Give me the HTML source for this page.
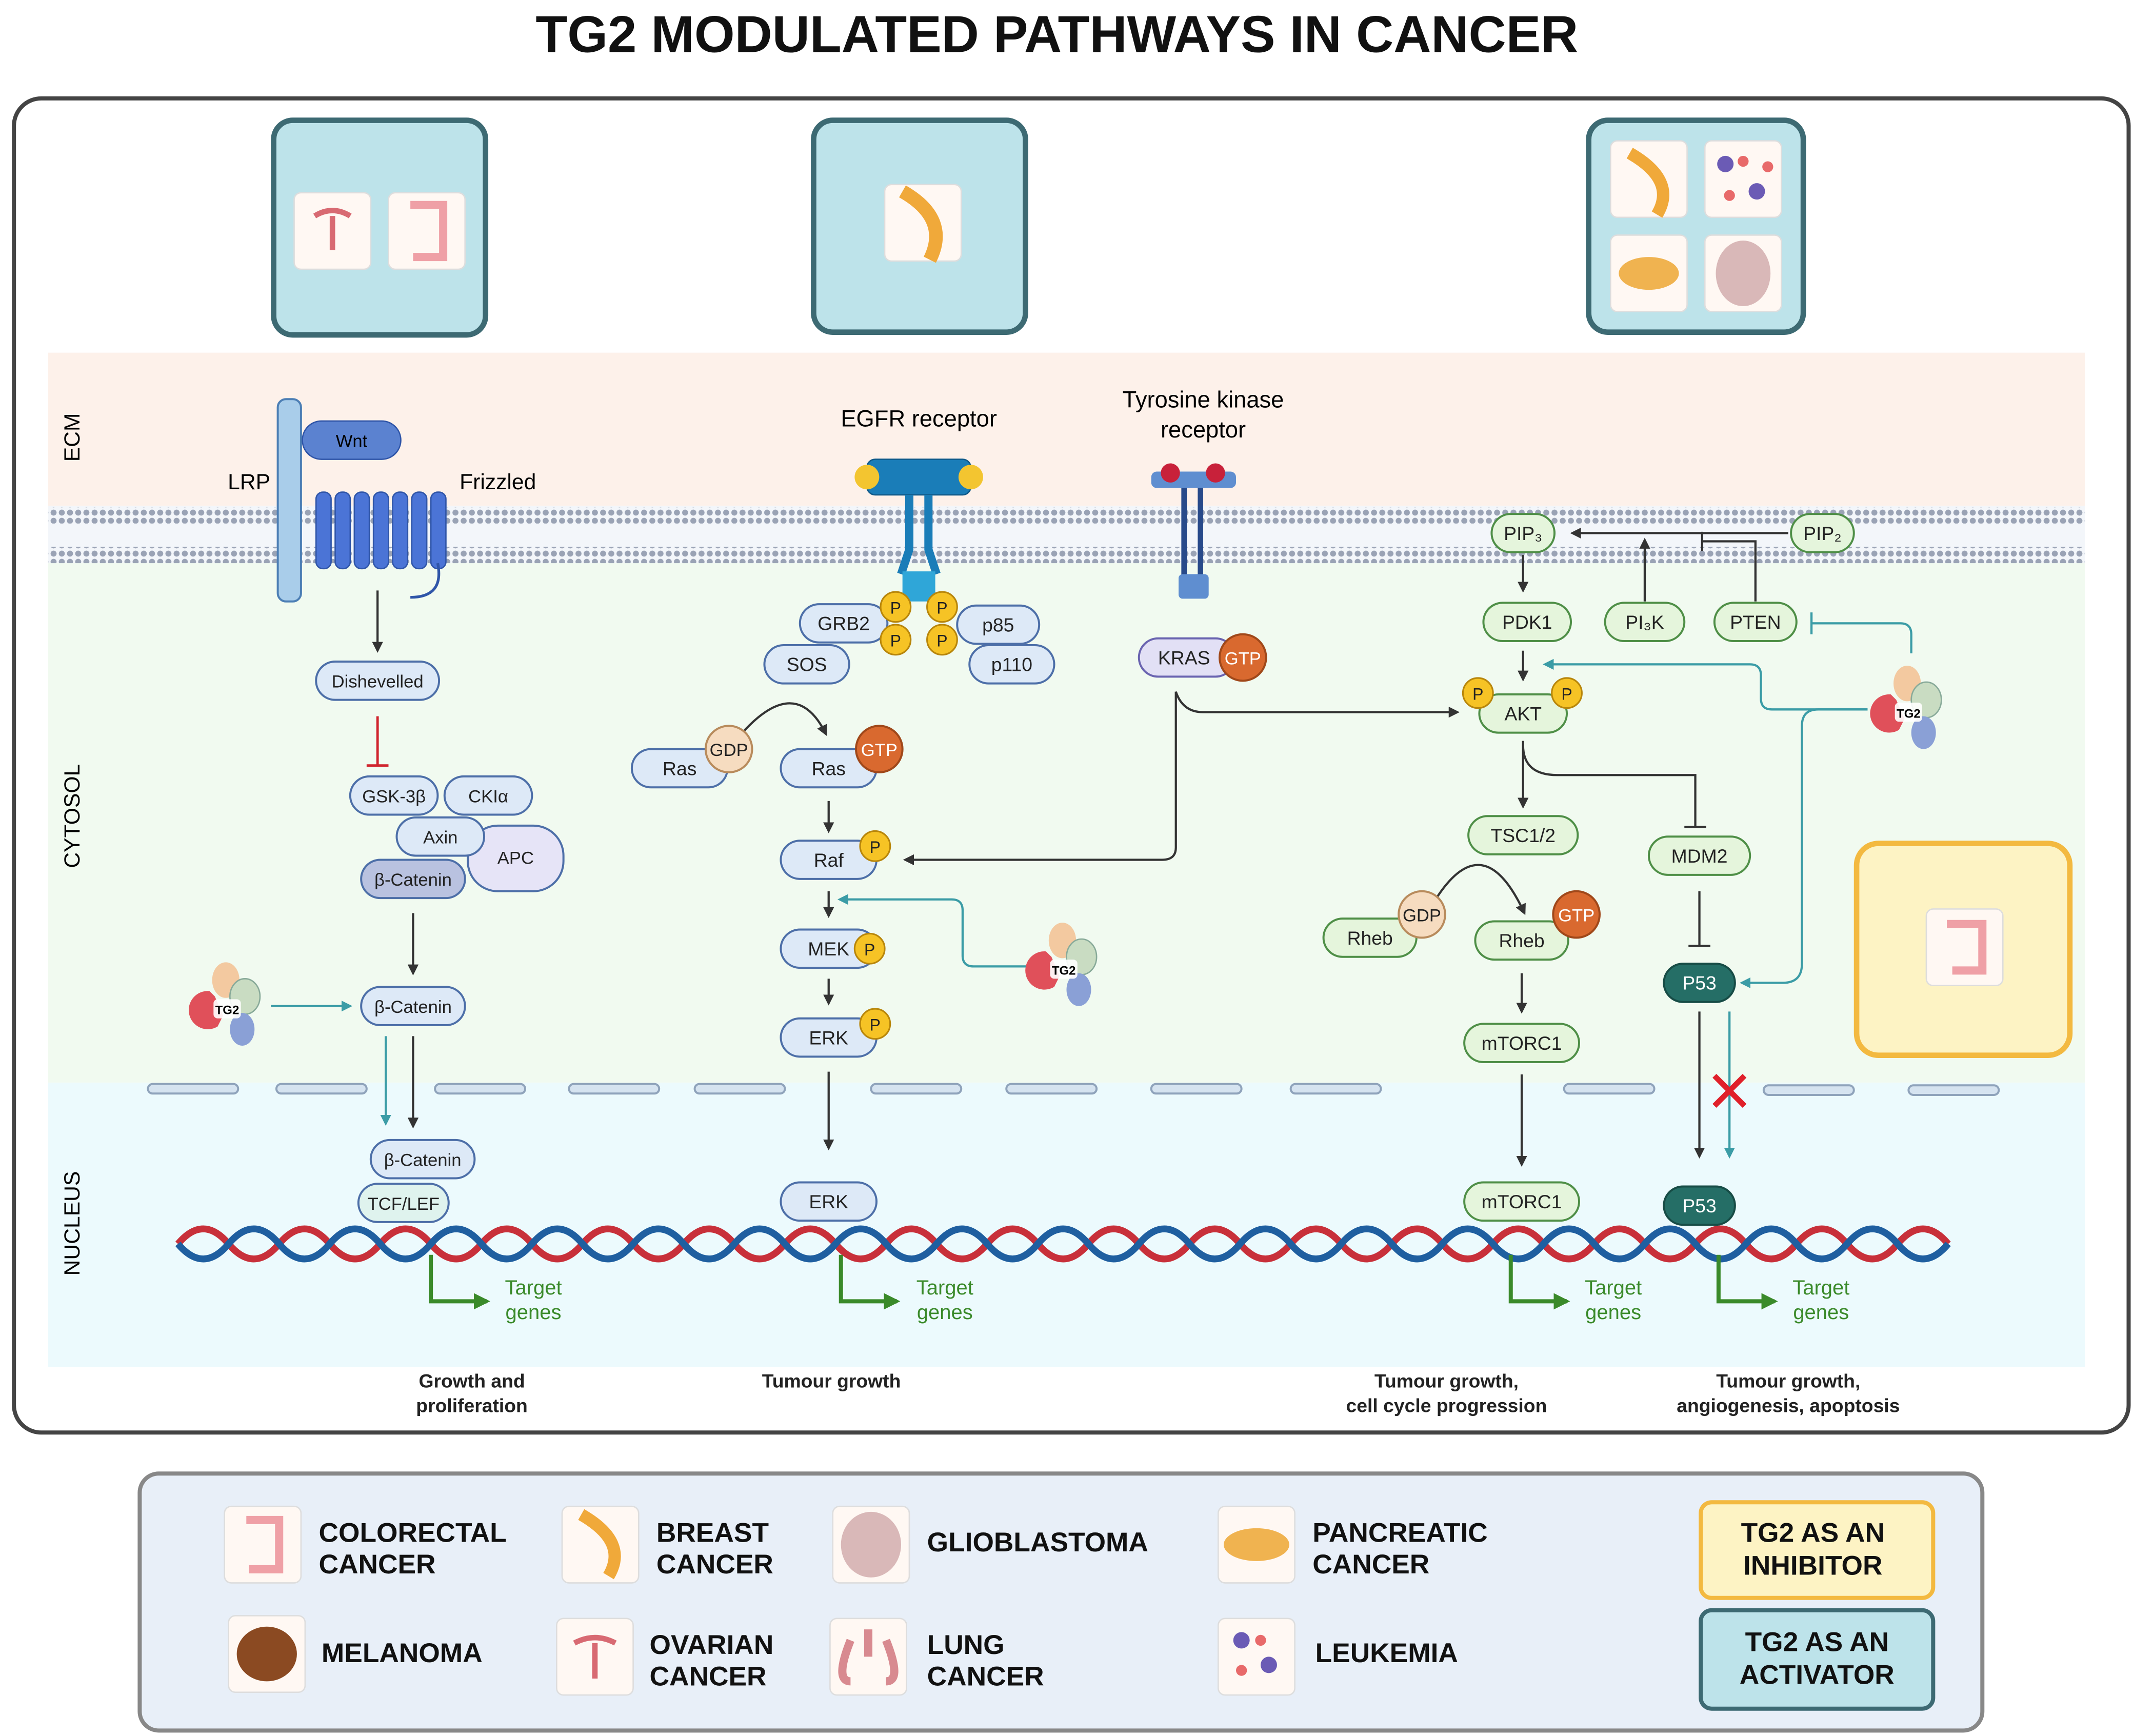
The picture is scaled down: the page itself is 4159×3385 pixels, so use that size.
<!DOCTYPE html>
<html><head><meta charset="utf-8"><style>
html,body{margin:0;padding:0;background:#fff;}
svg{display:block;}
text{font-family:"Liberation Sans",sans-serif;}
</style></head><body>
<svg width="4159" height="3385" viewBox="0 0 1560 1270" xmlns="http://www.w3.org/2000/svg">
<defs>
<marker id="ad" viewBox="0 0 10 10" refX="8" refY="5" markerWidth="5" markerHeight="5" orient="auto"><path d="M0,0L10,5L0,10z" fill="#333"/></marker>
<marker id="at" viewBox="0 0 10 10" refX="8" refY="5" markerWidth="5" markerHeight="5" orient="auto"><path d="M0,0L10,5L0,10z" fill="#3b9ca6"/></marker>
<marker id="ag" viewBox="0 0 10 10" refX="8" refY="5" markerWidth="4" markerHeight="4" orient="auto"><path d="M0,0L10,5L0,10z" fill="#3a8a2a"/></marker>
<pattern id="dots" width="6" height="6" patternUnits="userSpaceOnUse"><circle cx="3" cy="3" r="2.2" fill="#9aa3b5"/></pattern>
<g id="tg2">
<ellipse cx="-2" cy="-20" rx="10" ry="13" fill="#f3c9a0"/>
<ellipse cx="12" cy="-8" rx="11" ry="13" fill="#c9dcc2" stroke="#8a9"/>
<path d="M-14,-12 a14,14 0 1,0 6,26 l4,-8 l-6,-14z" fill="#e0505a"/>
<ellipse cx="10" cy="16" rx="9" ry="12" fill="#8aa0d6"/>
<rect x="-11" y="-6" width="20" height="14" rx="3" fill="#fff" opacity="0.9"/>
<text x="-1" y="5" font-size="9" font-weight="bold" text-anchor="middle">TG2</text>
</g>
<g id="org"><rect x="-28" y="-28" width="56" height="56" rx="5" fill="#fff8f3" stroke="#ddd"/></g>
</defs>

<text x="773" y="38" font-size="38" font-weight="bold" text-anchor="middle" fill="#111">TG2 MODULATED PATHWAYS IN CANCER</text>
<rect x="10" y="72" width="1547" height="976" rx="20" fill="#fff" stroke="#444" stroke-width="3"/>

<!-- bands -->
<rect x="35" y="258" width="1490" height="112" fill="#fdf1ea"/>
<rect x="35" y="370" width="1490" height="42" fill="#f3f6fa"/>
<rect x="35" y="412" width="1490" height="380" fill="#f1faf0"/>
<rect x="35" y="792" width="1490" height="208" fill="#ecfafd"/>
<rect x="35" y="371" width="1490" height="12" fill="url(#dots)"/>
<rect x="35" y="400" width="1490" height="12" fill="url(#dots)"/>
<text transform="translate(58,320) rotate(-90)" font-size="16" text-anchor="middle">ECM</text>
<text transform="translate(58,597) rotate(-90)" font-size="16" text-anchor="middle">CYTOSOL</text>
<text transform="translate(58,895) rotate(-90)" font-size="16" text-anchor="middle">NUCLEUS</text>

<!-- nuclear envelope -->
<g fill="#d5e3f0" stroke="#8fa3bb" stroke-width="1.5">
<rect x="108" y="793" width="66" height="7" rx="3.5"/><rect x="202" y="793" width="66" height="7" rx="3.5"/><rect x="318" y="793" width="66" height="7" rx="3.5"/><rect x="416" y="793" width="66" height="7" rx="3.5"/><rect x="508" y="793" width="66" height="7" rx="3.5"/><rect x="637" y="793" width="66" height="7" rx="3.5"/><rect x="736" y="793" width="66" height="7" rx="3.5"/><rect x="842" y="793" width="66" height="7" rx="3.5"/><rect x="944" y="793" width="66" height="7" rx="3.5"/><rect x="1144" y="793" width="66" height="7" rx="3.5"/><rect x="1290" y="794" width="66" height="7" rx="3.5"/><rect x="1396" y="794" width="66" height="7" rx="3.5"/>
</g>

<!-- top boxes -->
<rect x="200" y="88" width="155" height="157" rx="14" fill="#bde3ea" stroke="#3d6a73" stroke-width="4"/>
<use href="#org" x="243" y="169"/><use href="#org" x="312" y="169"/>
<path d="M230,158 q13,-8 26,0 M243,158 v25" stroke="#d86a72" stroke-width="4" fill="none"/>
<path d="M300,150 h24 v38 h-22" stroke="#efa0a6" stroke-width="6" fill="none"/>
<rect x="595" y="88" width="155" height="155" rx="14" fill="#bde3ea" stroke="#3d6a73" stroke-width="4"/>
<use href="#org" x="675" y="163"/><path d="M660,140 q35,20 20,50" stroke="#f0a93a" stroke-width="10" fill="none"/>
<rect x="1162" y="88" width="157" height="155" rx="14" fill="#bde3ea" stroke="#3d6a73" stroke-width="4"/>
<use href="#org" x="1206" y="131"/><use href="#org" x="1275" y="131"/><use href="#org" x="1206" y="200"/><use href="#org" x="1275" y="200"/>
<path d="M1192,112 q35,20 20,45" stroke="#f0a93a" stroke-width="9" fill="none"/>
<circle cx="1262" cy="120" r="6" fill="#6b5bb5"/><circle cx="1285" cy="140" r="6" fill="#6b5bb5"/><circle cx="1275" cy="118" r="4" fill="#e86a6a"/><circle cx="1293" cy="122" r="4" fill="#e86a6a"/><circle cx="1265" cy="143" r="4" fill="#e86a6a"/>
<ellipse cx="1206" cy="200" rx="22" ry="12" fill="#f0b350"/>
<ellipse cx="1275" cy="200" rx="20" ry="24" fill="#d9b8b8"/>

<!-- yellow box -->
<rect x="1358" y="617" width="156" height="155" rx="16" fill="#fdf3c4" stroke="#f3b940" stroke-width="4"/>
<use href="#org" x="1437" y="693"/><path d="M1424,676 h26 v34 h-22" stroke="#efa0a6" stroke-width="6" fill="none"/>

<!-- receptors -->
<rect x="203" y="292" width="17" height="148" rx="6" fill="#a9cdea" stroke="#4d7fb5" stroke-width="1.5"/>
<text x="182" y="358" font-size="16" text-anchor="middle">LRP</text>
<g fill="#4b74d6" stroke="#2f55a8">
<rect x="231" y="360" width="11" height="56" rx="5"/><rect x="245" y="360" width="11" height="56" rx="5"/><rect x="259" y="360" width="11" height="56" rx="5"/><rect x="273" y="360" width="11" height="56" rx="5"/><rect x="287" y="360" width="11" height="56" rx="5"/><rect x="301" y="360" width="11" height="56" rx="5"/><rect x="315" y="360" width="11" height="56" rx="5"/>
</g>
<path d="M320,412 q5,25 -20,25" stroke="#2f55a8" stroke-width="2" fill="none"/>
<rect x="221" y="308" width="72" height="28" rx="14" fill="#5b82d0" stroke="#2f55a8"/>
<text x="257" y="327" font-size="13" text-anchor="middle">Wnt</text>
<text x="364" y="358" font-size="16" text-anchor="middle">Frizzled</text>

<text x="672" y="312" font-size="17" text-anchor="middle">EGFR receptor</text>
<rect x="634" y="336" width="76" height="26" rx="6" fill="#1a7db8" stroke="#0f5a8a"/>
<circle cx="634" cy="349" r="9" fill="#f3c530"/><circle cx="710" cy="349" r="9" fill="#f3c530"/>
<path d="M665,362 v40 l-6,18 M679,362 v40 l6,18" stroke="#1a7db8" stroke-width="6" fill="none"/>
<rect x="660" y="418" width="24" height="22" fill="#2fa6d8"/>

<text x="880" y="298" font-size="17" text-anchor="middle">Tyrosine kinase</text>
<text x="880" y="320" font-size="17" text-anchor="middle">receptor</text>
<rect x="842" y="345" width="62" height="12" rx="4" fill="#5f8ed0"/>
<circle cx="856" cy="346" r="7" fill="#c8213a"/><circle cx="889" cy="346" r="7" fill="#c8213a"/>
<path d="M866,357 v70 M878,357 v70" stroke="#284a8a" stroke-width="4"/>
<rect x="862" y="420" width="22" height="18" rx="3" fill="#5f8ed0"/>

<!-- connectors dark -->
<g stroke="#333" stroke-width="1.6" fill="none" marker-end="url(#ad)">
<path d="M276,432 v44"/>
<path d="M302,668 v44"/>
<path d="M302,758 v66"/>
<path d="M542,537 q40,-45 62,0"/>
<path d="M606,586 v22"/>
<path d="M606,652 v18"/>
<path d="M606,716 v18"/>
<path d="M606,784 v56"/>
<path d="M860,506 q5,15 20,15 H1066"/>
<path d="M860,506 V620 q0,9 -10,9 H662"/>
<path d="M1308,390 H1150"/>
<path d="M1203,440 V395"/>
<path d="M1114,406 V432"/>
<path d="M1114,476 V497"/>
<path d="M1114,542 V590"/>
<path d="M1050,658 q35,-55 65,10"/>
<path d="M1113,712 V740"/>
<path d="M1113,786 V852"/>
<path d="M1243,740 V846"/>
</g>
<g stroke="#333" stroke-width="1.6" fill="none">
<path d="M1114,545 q0,22 25,22 H1240 V605 M1232,605 h16"/>
<path d="M1243,652 V692 M1235,692 h16"/>
<path d="M1284,440 V396 H1245 M1245,389 v14"/>
</g>
<path d="M276,524 V560 M268,560 h16" stroke="#d0242e" stroke-width="1.8" fill="none"/>
<!-- teal -->
<g stroke="#3b9ca6" stroke-width="1.6" fill="none">
<path d="M198,736 H256" marker-end="url(#at)"/>
<path d="M282,758 v64" marker-end="url(#at)"/>
<path d="M752,707 H712 q-8,0 -8,-8 V666 q0,-8 -8,-8 H614" marker-end="url(#at)"/>
<path d="M1366,519 H1296 q-8,0 -8,-8 V494 q0,-8 -8,-8 H1130" marker-end="url(#at)"/>
<path d="M1366,519 H1330 q-12,0 -12,12 V705 q0,14 -14,14 H1274" marker-end="url(#at)"/>
<path d="M1398,478 V464 q0,-8 -8,-8 H1325 M1325,448 v16"/>
<path d="M1265,740 V846" marker-end="url(#at)"/>
</g>
<path d="M1254,787 l22,22 M1276,787 l-22,22" stroke="#e0202a" stroke-width="4"/>

<!-- DNA -->
<path d="M130,910 q18.5,-22 37,0 t37,0 t37,0 t37,0 t37,0 t37,0 t37,0 t37,0 t37,0 t37,0 t37,0 t37,0 t37,0 t37,0 t37,0 t37,0 t37,0 t37,0 t37,0 t37,0 t37,0 t37,0 t37,0 t37,0 t37,0 t37,0 t37,0 t37,0 t37,0 t37,0 t37,0 t37,0 t37,0 t37,0 t37,0" stroke="#c8303a" stroke-width="5" fill="none"/>
<path d="M130,910 q18.5,22 37,0 t37,0 t37,0 t37,0 t37,0 t37,0 t37,0 t37,0 t37,0 t37,0 t37,0 t37,0 t37,0 t37,0 t37,0 t37,0 t37,0 t37,0 t37,0 t37,0 t37,0 t37,0 t37,0 t37,0 t37,0 t37,0 t37,0 t37,0 t37,0 t37,0 t37,0 t37,0 t37,0 t37,0 t37,0" stroke="#1f5fa0" stroke-width="5" fill="none"/>

<!-- target genes -->
<g stroke="#3a8a2a" stroke-width="3" fill="none" marker-end="url(#ag)">
<path d="M315,918 V952 H356"/><path d="M615,918 V952 H656"/><path d="M1105,918 V952 H1146"/><path d="M1257,918 V952 H1298"/>
</g>
<g font-size="15" fill="#3a8a2a" text-anchor="middle">
<text x="390" y="947">Target</text><text x="390" y="965">genes</text>
<text x="691" y="947">Target</text><text x="691" y="965">genes</text>
<text x="1180" y="947">Target</text><text x="1180" y="965">genes</text>
<text x="1332" y="947">Target</text><text x="1332" y="965">genes</text>
</g>
<g font-size="14" font-weight="bold" text-anchor="middle" fill="#222">
<text x="345" y="1015">Growth and</text><text x="345" y="1033">proliferation</text>
<text x="608" y="1015">Tumour growth</text>
<text x="1058" y="1015">Tumour growth,</text><text x="1058" y="1033">cell cycle progression</text>
<text x="1308" y="1015">Tumour growth,</text><text x="1308" y="1033">angiogenesis, apoptosis</text>
</g>

<!-- nodes -->
<g stroke="#4d6fa8" stroke-width="1.5" fill="#dde9f7">
<rect x="231" y="484" width="90" height="28" rx="14"/>
<rect x="256" y="568" width="64" height="28" rx="14"/>
<rect x="325" y="568" width="64" height="28" rx="14"/>
<rect x="342" y="604" width="70" height="48" rx="22" fill="#e6e4f7"/>
<rect x="290" y="598" width="64" height="28" rx="14"/>
<rect x="264" y="629" width="76" height="28" rx="14" fill="#b9c2e0"/>
<rect x="264" y="722" width="76" height="28" rx="14"/>
<rect x="271" y="834" width="76" height="28" rx="14"/>
<rect x="262" y="866" width="66" height="28" rx="14" fill="#dff3ee"/>
<rect x="585" y="442" width="64" height="28" rx="14"/>
<rect x="559" y="472" width="62" height="28" rx="14"/>
<rect x="700" y="443" width="60" height="28" rx="14"/>
<rect x="709" y="472" width="62" height="28" rx="14"/>
<rect x="462" y="548" width="70" height="28" rx="14"/>
<rect x="571" y="548" width="70" height="28" rx="14"/>
<rect x="571" y="615" width="70" height="28" rx="14"/>
<rect x="571" y="680" width="70" height="28" rx="14"/>
<rect x="571" y="745" width="70" height="28" rx="14"/>
<rect x="571" y="865" width="70" height="28" rx="14"/>
<rect x="833" y="467" width="70" height="28" rx="14" fill="#e2e0f5" stroke="#6a64b0"/>
</g>
<g stroke="#4f8f47" stroke-width="1.5" fill="#e5f5dc">
<rect x="1091" y="376" width="46" height="28" rx="14"/>
<rect x="1310" y="376" width="46" height="28" rx="14"/>
<rect x="1085" y="441" width="64" height="28" rx="14"/>
<rect x="1174" y="441" width="58" height="28" rx="14"/>
<rect x="1254" y="441" width="60" height="28" rx="14"/>
<rect x="1082" y="508" width="64" height="28" rx="14"/>
<rect x="1074" y="597" width="80" height="28" rx="14"/>
<rect x="1206" y="612" width="74" height="28" rx="14"/>
<rect x="968" y="672" width="68" height="28" rx="14"/>
<rect x="1079" y="674" width="68" height="28" rx="14"/>
<rect x="1071" y="749" width="84" height="28" rx="14"/>
<rect x="1071" y="865" width="84" height="28" rx="14"/>
<rect x="1217" y="705" width="52" height="28" rx="14" fill="#256e66" stroke="#174c46"/>
<rect x="1217" y="868" width="52" height="28" rx="14" fill="#256e66" stroke="#174c46"/>
</g>
<!-- phospho & GTP -->
<g stroke="#b8860b" stroke-width="1.2" fill="#f6c325">
<circle cx="655" cy="444" r="11"/><circle cx="655" cy="468" r="11"/><circle cx="689" cy="444" r="11"/><circle cx="689" cy="468" r="11"/>
<circle cx="640" cy="619" r="11"/><circle cx="636" cy="694" r="11"/><circle cx="640" cy="749" r="11"/>
<circle cx="1081" cy="507" r="11"/><circle cx="1146" cy="507" r="11"/>
</g>
<g stroke="#b88b5c" stroke-width="1.5"><circle cx="533" cy="548" r="17" fill="#f6dcc0"/><circle cx="1040" cy="669" r="17" fill="#f6dcc0"/></g>
<g stroke="#a0481a" stroke-width="1.5" fill="#d9692f"><circle cx="643" cy="548" r="17"/><circle cx="909" cy="481" r="17"/><circle cx="1153" cy="669" r="17"/></g>

<g font-size="13" text-anchor="middle" fill="#222">
<text x="276" y="503">Dishevelled</text>
<text x="288" y="587">GSK-3β</text><text x="357" y="587">CKIα</text><text x="322" y="617">Axin</text><text x="377" y="632">APC</text>
<text x="302" y="648">β-Catenin</text><text x="302" y="741">β-Catenin</text><text x="309" y="853">β-Catenin</text><text x="295" y="885">TCF/LEF</text>
<text x="617" y="461" font-size="14">GRB2</text><text x="590" y="491" font-size="14">SOS</text><text x="730" y="462" font-size="14">p85</text><text x="740" y="491" font-size="14">p110</text>
<text x="497" y="567" font-size="14">Ras</text><text x="533" y="553" font-size="13">GDP</text>
<text x="606" y="567" font-size="14">Ras</text><text x="643" y="553" fill="#fff">GTP</text>
<text x="606" y="634" font-size="14">Raf</text><text x="606" y="699" font-size="14">MEK</text><text x="606" y="764" font-size="14">ERK</text><text x="606" y="884" font-size="14">ERK</text>
<text x="866" y="486" font-size="14">KRAS</text><text x="909" y="486" fill="#fff">GTP</text>
<text x="655" y="449" font-size="12">P</text><text x="655" y="473" font-size="12">P</text><text x="689" y="449" font-size="12">P</text><text x="689" y="473" font-size="12">P</text>
<text x="640" y="624" font-size="12">P</text><text x="636" y="699" font-size="12">P</text><text x="640" y="754" font-size="12">P</text>
<text x="1081" y="512" font-size="12">P</text><text x="1146" y="512" font-size="12">P</text>
<text x="1114" y="395" font-size="14">PIP₃</text><text x="1333" y="395" font-size="14">PIP₂</text>
<text x="1117" y="460" font-size="14">PDK1</text><text x="1203" y="460" font-size="14">PI₃K</text><text x="1284" y="460" font-size="14">PTEN</text>
<text x="1114" y="527" font-size="14">AKT</text><text x="1114" y="616" font-size="14">TSC1/2</text><text x="1243" y="631" font-size="14">MDM2</text>
<text x="1002" y="691" font-size="14">Rheb</text><text x="1040" y="674">GDP</text><text x="1113" y="693" font-size="14">Rheb</text><text x="1153" y="674" fill="#fff">GTP</text>
<text x="1113" y="768" font-size="14">mTORC1</text><text x="1113" y="884" font-size="14">mTORC1</text>
<text x="1243" y="724" font-size="14" fill="#fff">P53</text><text x="1243" y="887" font-size="14" fill="#fff">P53</text>
</g>

<use href="#tg2" x="167" y="737"/>
<use href="#tg2" x="779" y="708"/>
<use href="#tg2" x="1397" y="520"/>

<!-- legend -->
<rect x="102" y="1078" width="1348" height="188" rx="14" fill="#e8eff8" stroke="#888" stroke-width="3"/>
<use href="#org" x="192" y="1130"/><path d="M180,1112 h24 v36 h-22" stroke="#efa0a6" stroke-width="6" fill="none"/>
<use href="#org" x="439" y="1130"/><path d="M425,1108 q35,20 20,45" stroke="#f0a93a" stroke-width="9" fill="none"/>
<use href="#org" x="637" y="1130"/><ellipse cx="637" cy="1130" rx="22" ry="24" fill="#d9b8b8"/>
<use href="#org" x="919" y="1130"/><ellipse cx="919" cy="1130" rx="24" ry="12" fill="#f0b350"/>
<use href="#org" x="195" y="1210"/><ellipse cx="195" cy="1210" rx="22" ry="20" fill="#8b4a22"/>
<use href="#org" x="435" y="1212"/><path d="M420,1202 q15,-8 30,0 M435,1202 v26" stroke="#d86a72" stroke-width="4" fill="none"/>
<use href="#org" x="635" y="1212"/><path d="M622,1200 q-12,30 0,30 M648,1200 q12,30 0,30 M635,1192 v20" stroke="#d88a90" stroke-width="6" fill="none"/>
<use href="#org" x="919" y="1212"/><circle cx="908" cy="1200" r="6" fill="#6b5bb5"/><circle cx="928" cy="1218" r="6" fill="#6b5bb5"/><circle cx="922" cy="1200" r="4" fill="#e86a6a"/><circle cx="908" cy="1222" r="4" fill="#e86a6a"/>
<g font-size="20" font-weight="bold" fill="#111">
<text x="233" y="1128">COLORECTAL</text><text x="233" y="1151">CANCER</text>
<text x="480" y="1128">BREAST</text><text x="480" y="1151">CANCER</text>
<text x="678" y="1135">GLIOBLASTOMA</text>
<text x="960" y="1128">PANCREATIC</text><text x="960" y="1151">CANCER</text>
<text x="235" y="1216">MELANOMA</text>
<text x="475" y="1210">OVARIAN</text><text x="475" y="1233">CANCER</text>
<text x="678" y="1210">LUNG</text><text x="678" y="1233">CANCER</text>
<text x="962" y="1216">LEUKEMIA</text>
</g>
<rect x="1244" y="1099" width="170" height="70" rx="8" fill="#fdf3c4" stroke="#f3b940" stroke-width="3"/>
<rect x="1244" y="1178" width="170" height="72" rx="8" fill="#bde3ea" stroke="#3d6a73" stroke-width="3"/>
<g font-size="20" font-weight="bold" text-anchor="middle" fill="#111">
<text x="1326" y="1128">TG2 AS AN</text><text x="1326" y="1152">INHIBITOR</text>
<text x="1329" y="1208">TG2 AS AN</text><text x="1329" y="1232">ACTIVATOR</text>
</g>
</svg>
</body></html>
